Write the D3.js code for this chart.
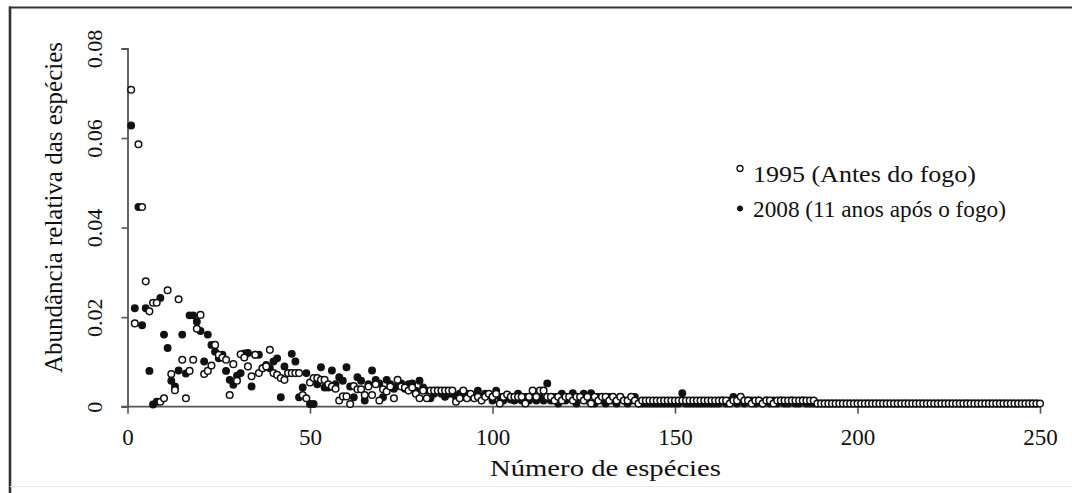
<!DOCTYPE html>
<html>
<head>
<meta charset="utf-8">
<script src="https://cdn.jsdelivr.net/npm/d3@7"></script>
<style>
html,body{margin:0;padding:0;background:#fff;}
svg{display:block;}
text{font-family:"Liberation Serif","Times New Roman",serif;fill:#111;}
</style>
</head>
<body>
<svg id="chart" width="1072" height="493"></svg>
<script>
// Relative abundance of each species (index 1..n)
const open1995 = [
0.0708,0.0186,0.0586,0.0446,0.0280,0.0213,0.0232,0.0232,0.0011,0.0019,
0.0260,0.0073,0.0037,0.0240,0.0105,0.0019,0.0080,0.0105,0.0174,0.0205,
0.0073,0.0080,0.0092,0.0138,0.0116,0.0110,0.0105,0.0026,0.0095,0.0058,
0.0117,0.0110,0.0090,0.0068,0.0116,0.0075,0.0086,0.0090,0.0127,0.0075,
0.0071,0.0064,0.0060,0.0075,0.0075,0.0075,0.0075,0.0026,0.0019,0.0054,
0.0064,0.0064,0.0060,0.0060,0.0050,0.0045,0.0040,0.0014,0.0023,0.0023,
0.0006,0.0046,0.0039,0.0039,0.0026,0.0045,0.0026,0.0050,0.0014,0.0039,
0.0034,0.0045,0.0019,0.0060,0.0045,0.0043,0.0036,0.0043,0.0029,0.0019,
0.0036,0.0019,0.0036,0.0036,0.0036,0.0036,0.0036,0.0036,0.0036,0.0011,
0.0019,0.0036,0.0019,0.0029,0.0019,0.0022,0.0014,0.0022,0.0029,0.0022,
0.0029,0.0007,0.0022,0.0027,0.0022,0.0022,0.0022,0.0022,0.0007,0.0022,
0.0036,0.0022,0.0036,0.0036,0.0022,0.0022,0.0014,0.0022,0.0014,0.0022,
0.0022,0.0014,0.0022,0.0022,0.0014,0.0022,0.0007,0.0022,0.0014,0.0022,
0.0022,0.0014,0.0022,0.0014,0.0022,0.0014,0.0014,0.0022,0.0014,0.0007,
0.0014,0.0014,0.0014,0.0014,0.0014,0.0014,0.0014,0.0014,0.0014,0.0014,
0.0014,0.0014,0.0014,0.0014,0.0014,0.0014,0.0014,0.0014,0.0014,0.0014,
0.0014,0.0014,0.0014,0.0014,0.0007,0.0014,0.0014,0.0022,0.0014,0.0014,
0.0007,0.0014,0.0014,0.0007,0.0014,0.0014,0.0007,0.0014,0.0014,0.0014,
0.0014,0.0014,0.0014,0.0014,0.0014,0.0014,0.0014,0.0014,0.0007,0.0007,
0.0007,0.0007,0.0007,0.0007,0.0007,0.0007,0.0007,0.0007,0.0007,0.0007,
0.0007,0.0007,0.0007,0.0007,0.0007,0.0007,0.0007,0.0007,0.0007,0.0007,
0.0007,0.0007,0.0007,0.0007,0.0007,0.0007,0.0007,0.0007,0.0007,0.0007,
0.0007,0.0007,0.0007,0.0007,0.0007,0.0007,0.0007,0.0007,0.0007,0.0007,
0.0007,0.0007,0.0007,0.0007,0.0007,0.0007,0.0007,0.0007,0.0007,0.0007,
0.0007,0.0007,0.0007,0.0007,0.0007,0.0007,0.0007,0.0007,0.0007,0.0007
];

const filled2008 = [
0.0628,0.0220,0.0446,0.0182,0.0220,0.0080,0.0005,0.0011,0.0243,0.0161,
0.0131,0.0058,0.0045,0.0081,0.0161,0.0074,0.0204,0.0204,0.0190,0.0169,
0.0101,0.0161,0.0138,0.0123,0.0108,0.0116,0.0080,0.0060,0.0049,0.0069,
0.0075,0.0119,0.0120,0.0045,0.0116,0.0116,0.0086,0.0093,0.0086,0.0101,
0.0108,0.0021,0.0090,0.0075,0.0118,0.0101,0.0021,0.0043,0.0075,0.0006,
0.0006,0.0050,0.0088,0.0043,0.0043,0.0081,0.0050,0.0066,0.0058,0.0088,
0.0045,0.0021,0.0066,0.0058,0.0014,0.0050,0.0081,0.0060,0.0052,0.0021,
0.0060,0.0050,0.0040,0.0047,0.0052,0.0040,0.0050,0.0052,0.0036,0.0058,
0.0043,0.0036,0.0019,0.0029,0.0036,0.0029,0.0022,0.0029,0.0029,0.0022,
0.0029,0.0022,0.0029,0.0022,0.0026,0.0036,0.0022,0.0029,0.0026,0.0014,
0.0036,0.0022,0.0014,0.0022,0.0016,0.0014,0.0029,0.0014,0.0022,0.0014,
0.0022,0.0014,0.0022,0.0014,0.0052,0.0014,0.0022,0.0007,0.0029,0.0014,
0.0022,0.0030,0.0007,0.0022,0.0029,0.0014,0.0030,0.0007,0.0022,0.0014,
0.0007,0.0022,0.0014,0.0007,0.0022,0.0014,0.0007,0.0014,0.0022,0.0007,
0.0007,0.0007,0.0007,0.0007,0.0007,0.0007,0.0007,0.0007,0.0007,0.0007,
0.0007,0.0030,0.0007,0.0007,0.0007,0.0007,0.0007,0.0007,0.0007,0.0007,
0.0007,0.0007,0.0014,0.0007,0.0014,0.0022,0.0007,0.0014,0.0007,0.0014,
0.0014,0.0007,0.0014,0.0007,0.0014,0.0007,0.0014,0.0007,0.0014,0.0007,
0.0007,0.0014,0.0007,0.0007,0.0014,0.0007,0.0007,0.0007,0.0007,0.0007,
0.0007,0.0007,0.0007,0.0007,0.0007,0.0007,0.0007,0.0007,0.0007,0.0007,
0.0007,0.0007,0.0007,0.0007,0.0007,0.0007,0.0007,0.0007,0.0007,0.0007,
0.0007,0.0007,0.0007,0.0007,0.0007,0.0007,0.0007,0.0007,0.0007,0.0007,
0.0007,0.0007,0.0007,0.0007,0.0007,0.0007,0.0007,0.0007,0.0007,0.0007,
0.0007,0.0007,0.0007,0.0007,0.0007,0.0007,0.0007,0.0007,0.0007,0.0007,
0.0007,0.0007,0.0007,0.0007,0.0007,0.0007,0.0007,0.0007,0.0007
];

const xTicks = [0, 50, 100, 150, 200, 250];
const yTicks = [0, 0.02, 0.04, 0.06, 0.08];
const yTickLabels = ["0", "0.02", "0.04", "0.06", "0.08"];
const seriesNames = ["1995 (Antes do fogo)", "2008 (11 anos após o fogo)"];
const xTitle = "Número de espécies";
const yTitle = "Abundância relativa das espécies";

const svg = d3.select("#chart");
const axisColor = "#555";

// frame
svg.append("line").attr("x1", 9).attr("x2", 1072).attr("y1", 7.5).attr("y2", 7.5)
  .attr("stroke", "#333").attr("stroke-width", 2.2);
svg.append("line").attr("x1", 10).attr("x2", 10).attr("y1", 6.5).attr("y2", 493)
  .attr("stroke", "#333").attr("stroke-width", 2.6);
svg.append("line").attr("x1", 10).attr("x2", 1072).attr("y1", 486.5).attr("y2", 486.5)
  .attr("stroke", "#ececec").attr("stroke-width", 1);

const x = d3.scaleLinear().domain([0, 250]).range([127.5, 1040]);
const y = d3.scaleLinear().domain([0, 0.08]).range([406.7, 48.5]);

// y axis
const gy = svg.append("g").attr("transform", `translate(${x(0)},0)`)
  .call(d3.axisLeft(y).tickValues(yTicks).tickSize(6).tickPadding(0)
    .tickFormat((d, i) => yTickLabels[i]));
gy.select(".domain").attr("stroke", axisColor).attr("stroke-width", 1.8);
gy.selectAll(".tick line").attr("stroke", axisColor).attr("stroke-width", 1.6);
gy.selectAll(".tick text")
  .attr("transform", "rotate(-90)")
  .attr("x", 0).attr("y", -26).attr("dy", null)
  .attr("text-anchor", "middle")
  .style("font-size", "22px").style("font-family", '"Liberation Serif",serif').attr("fill", "#111");

// x axis
const gx = svg.append("g").attr("transform", `translate(0,${y(0)})`)
  .call(d3.axisBottom(x).tickValues(xTicks).tickSize(7).tickPadding(0).tickFormat(d3.format("d")));
gx.select(".domain").attr("stroke", axisColor).attr("stroke-width", 1.8)
  .attr("d", `M${x(0) - 6},0H${x(250)}`);
gx.selectAll(".tick line").attr("stroke", axisColor).attr("stroke-width", 1.6);
gx.selectAll(".tick text")
  .attr("y", 38).attr("dy", null)
  .style("font-size", "23px").style("font-family", '"Liberation Serif",serif').attr("fill", "#111");

// axis titles
svg.append("text").attr("x", 490).attr("y", 476)
  .attr("textLength", 231).attr("lengthAdjust", "spacingAndGlyphs")
  .style("font-size", "24px").text(xTitle);
svg.append("text").attr("transform", "translate(62,207.5) rotate(-90)")
  .attr("text-anchor", "middle")
  .style("font-size", "25px").text(yTitle);

// points
const r = 3.3;
svg.append("g").selectAll("circle").data(filled2008).join("circle")
  .attr("cx", (d, i) => x(i + 1)).attr("cy", d => y(d)).attr("r", r)
  .attr("fill", "#111").attr("stroke", "#111").attr("stroke-width", 1.3);
svg.append("g").selectAll("circle").data(open1995).join("circle")
  .attr("cx", (d, i) => x(i + 1)).attr("cy", d => y(d)).attr("r", r)
  .attr("fill", "#fff").attr("stroke", "#111").attr("stroke-width", 1.5);

// legend
svg.append("circle").attr("cx", 740).attr("cy", 168.5).attr("r", 3)
  .attr("fill", "#fff").attr("stroke", "#111").attr("stroke-width", 1.3);
svg.append("text").attr("x", 753).attr("y", 181.5)
  .attr("textLength", 223).attr("lengthAdjust", "spacingAndGlyphs")
  .style("font-size", "24px").text(seriesNames[0]);
svg.append("circle").attr("cx", 740).attr("cy", 208.5).attr("r", 2.6)
  .attr("fill", "#111").attr("stroke", "#111").attr("stroke-width", 1);
svg.append("text").attr("x", 753).attr("y", 216.5)
  .attr("textLength", 253).attr("lengthAdjust", "spacingAndGlyphs")
  .style("font-size", "24px").text(seriesNames[1]);
</script>
</body>
</html>
